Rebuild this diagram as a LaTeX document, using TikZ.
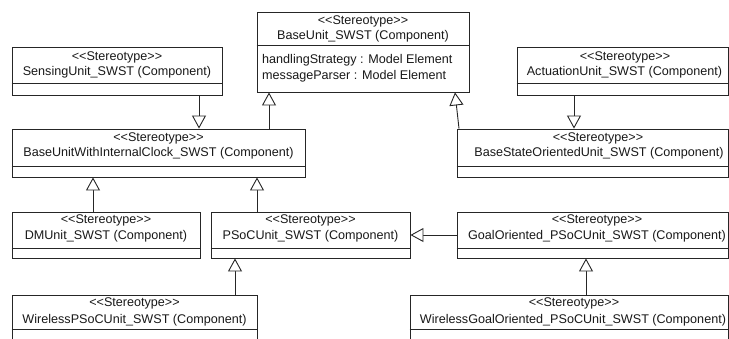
\documentclass[tikz,border=0pt]{standalone}
\usepackage{fontspec}
\setmainfont{Liberation Sans}
\usetikzlibrary{arrows.meta}
% guillemet-free angle brackets for stereotypes
\newcommand\stype{<\kern0pt<Stereotype>\kern0pt>}
\begin{document}
\begin{tikzpicture}[x=1pt,y=-1pt,
  cls/.style={draw=black!85, line width=0.9pt, fill=white, inner sep=0pt},
  lbl/.style={inner sep=0pt, font=\fontsize{12.6}{15}\selectfont, text=black!90},
  sepline/.style={draw=black!85, line width=0.9pt},
  gen/.style={draw=black!85, line width=0.9pt,
    -{Triangle[open,length=13pt,width=14pt,fill=white]}}]
\useasboundingbox (0,0) rectangle (729,338);

% class boxes
\node[cls, minimum width=212pt, minimum height=80pt] (base)  at (363,52) {};
\node[cls, minimum width=210pt, minimum height=48pt] (sens)  at (117,71) {};
\node[cls, minimum width=211pt, minimum height=48pt] (act)   at (622.5,71) {};
\node[cls, minimum width=293pt, minimum height=48pt] (buwic) at (158.5,153) {};
\node[cls, minimum width=271pt, minimum height=48pt] (bso)   at (592.5,153) {};
\node[cls, minimum width=188pt, minimum height=46pt] (dm)    at (106,235) {};
\node[cls, minimum width=199pt, minimum height=46pt] (psoc)  at (310.5,235) {};
\node[cls, minimum width=271pt, minimum height=46pt] (goal)  at (592.5,235) {};
\node[cls, minimum width=245pt, minimum height=50pt] (wpsoc) at (134.5,320) {};
\node[cls, minimum width=318pt, minimum height=50pt] (wgoal) at (569,320) {};

% compartment separators
\draw[sepline] (base.west  |- 0,45)  -- (base.east  |- 0,45);
\draw[sepline] (sens.west  |- 0,83)  -- (sens.east  |- 0,83);
\draw[sepline] (act.west   |- 0,83)  -- (act.east   |- 0,83);
\draw[sepline] (buwic.west |- 0,166) -- (buwic.east |- 0,166);
\draw[sepline] (bso.west   |- 0,166) -- (bso.east   |- 0,166);
\draw[sepline] (dm.west    |- 0,248) -- (dm.east    |- 0,248);
\draw[sepline] (psoc.west  |- 0,248) -- (psoc.east  |- 0,248);
\draw[sepline] (goal.west  |- 0,248) -- (goal.east  |- 0,248);
\draw[sepline] (wpsoc.west |- 0,329) -- (wpsoc.east |- 0,329);
\draw[sepline] (wgoal.west |- 0,329) -- (wgoal.east |- 0,329);

% labels
\node[lbl] (base-s) at (363,21) {\stype};
\node[lbl] (base-n) at (363,36) {BaseUnit\_SWST (Component)};
\node[lbl, anchor=west] (base-a1) at (262,60) {handlingStrategy : Model Element};
\node[lbl, anchor=west] (base-a2) at (262,76) {messageParser : Model Element};

\node[lbl] (sens-s) at (117,57) {\stype};
\node[lbl] (sens-n) at (117,72) {SensingUnit\_SWST (Component)};

\node[lbl] (act-s) at (625,57) {\stype};
\node[lbl] (act-n) at (624.5,72) {ActuationUnit\_SWST (Component)};

\node[lbl] (buwic-s) at (158.5,138) {\stype};
\node[lbl] (buwic-n) at (158.5,153) {BaseUnitWithInternalClock\_SWST (Component)};

\node[lbl] (bso-s) at (598,138) {\stype};
\node[lbl] (bso-n) at (599,153) {BaseStateOrientedUnit\_SWST (Component)};

\node[lbl] (dm-s) at (106,220) {\stype};
\node[lbl] (dm-n) at (106,236) {DMUnit\_SWST (Component)};

\node[lbl] (psoc-s) at (310.5,220) {\stype};
\node[lbl] (psoc-n) at (310.5,236) {PSoCUnit\_SWST (Component)};

\node[lbl] (goal-s) at (597,220) {\stype};
\node[lbl] (goal-n) at (597,236) {GoalOriented\_PSoCUnit\_SWST (Component)};

\node[lbl] (wpsoc-s) at (134.5,303) {\stype};
\node[lbl] (wpsoc-n) at (134.5,320) {WirelessPSoCUnit\_SWST (Component)};

\node[lbl] (wgoal-s) at (574,303) {\stype};
\node[lbl] (wgoal-n) at (573,320) {WirelessGoalOriented\_PSoCUnit\_SWST (Component)};

% generalizations
\draw[gen] (sens.south  -| 199,0) -- (buwic.north -| 199,0);
\draw[gen] (buwic.north -| 269,0) -- (base.south  -| 269,0);
\draw[gen] (bso.north   -| 459,0) -- (base.south  -| 455,0);
\draw[gen] (act.south   -| 574,0) -- (bso.north   -| 574,0);
\draw[gen] (dm.north    -| 93,0)  -- (buwic.south -| 93,0);
\draw[gen] (psoc.north  -| 257,0) -- (buwic.south -| 257,0);
\draw[gen] (goal.west   |- 0,235) -- (psoc.east   |- 0,235);
\draw[gen] (wpsoc.north -| 235,0) -- (psoc.south  -| 235,0);
\draw[gen] (wgoal.north -| 586,0) -- (goal.south  -| 586,0);
\end{tikzpicture}
\end{document}
